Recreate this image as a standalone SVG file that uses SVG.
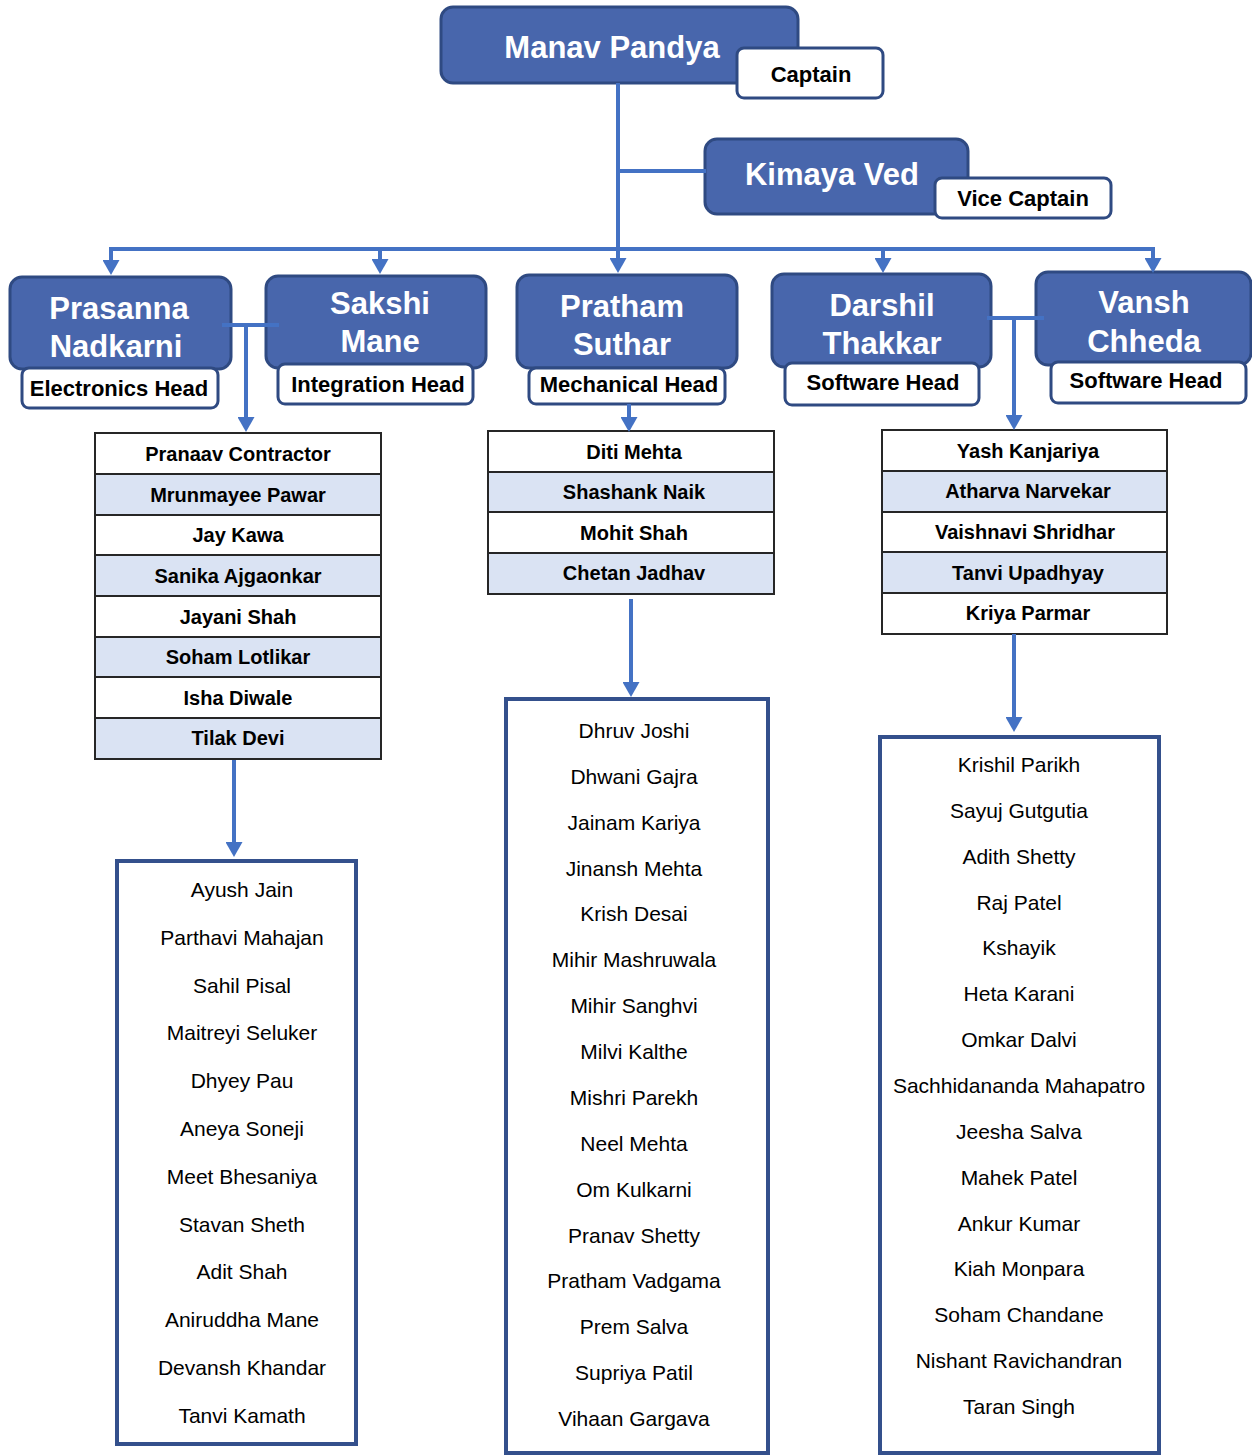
<svg xmlns="http://www.w3.org/2000/svg" width="1252" height="1456" viewBox="0 0 1252 1456">
<style>
.head{fill:#4866ac;stroke:#2f4a82;stroke-width:3}
.tag{fill:#ffffff;stroke:#2f4a82;stroke-width:3}
.ht{font-family:"Liberation Sans",Arial,sans-serif;font-weight:bold;font-size:31px;fill:#ffffff;text-anchor:middle}
.tt{font-family:"Liberation Sans",Arial,sans-serif;font-weight:bold;font-size:22px;fill:#000000;text-anchor:middle}
.rw{fill:#ffffff;stroke:#262626;stroke-width:2}
.rb{fill:#dae3f3;stroke:#262626;stroke-width:2}
.rt{font-family:"Liberation Sans",Arial,sans-serif;font-weight:bold;font-size:20px;fill:#000000;text-anchor:middle}
.lb{fill:#ffffff;stroke:#34508c;stroke-width:4}
.lt{font-family:"Liberation Sans",Arial,sans-serif;font-size:21px;fill:#000000;text-anchor:middle}
.cn{fill:none;stroke:#4472c4;stroke-width:4}
.ar{marker-end:url(#arr)}
</style>
<defs>
<marker id="arr" viewBox="0 0 15 17" refX="7" refY="8.5" markerWidth="15" markerHeight="17" markerUnits="userSpaceOnUse" orient="auto">
<path d="M0,0 L15,8.5 L0,17 z" fill="#4472c4"/>
</marker>
</defs>

<g id="manav">
<rect class="head" x="441" y="7" width="357" height="76" rx="12"/>
<text class="ht" x="612" y="58">Manav Pandya</text>
<rect class="tag" x="737" y="48" width="146" height="50" rx="7"/>
<text class="tt" x="811" y="82">Captain</text>
</g>
<g id="kimaya">
<rect class="head" x="705" y="139" width="263" height="75" rx="12"/>
<text class="ht" x="832" y="185">Kimaya Ved</text>
<rect class="tag" x="935" y="178" width="176" height="40" rx="7"/>
<text class="tt" x="1023" y="206">Vice Captain</text>
</g>
<g id="prasanna">
<rect class="head" x="10" y="277" width="221" height="92" rx="12"/>
<text class="ht" x="119" y="319">Prasanna</text>
<text class="ht" x="116" y="357">Nadkarni</text>
<rect class="tag" x="22" y="368" width="196" height="40" rx="7"/>
<text class="tt" x="119" y="396">Electronics Head</text>
</g>
<g id="sakshi">
<rect class="head" x="266" y="276" width="220" height="92" rx="12"/>
<text class="ht" x="380" y="314">Sakshi</text>
<text class="ht" x="380" y="352">Mane</text>
<rect class="tag" x="278" y="364" width="195" height="40" rx="7"/>
<text class="tt" x="378" y="392">Integration Head</text>
</g>
<g id="pratham">
<rect class="head" x="517" y="275" width="220" height="93" rx="12"/>
<text class="ht" x="622" y="317">Pratham</text>
<text class="ht" x="622" y="355">Suthar</text>
<rect class="tag" x="529" y="368" width="196" height="36" rx="7"/>
<text class="tt" x="629" y="392">Mechanical Head</text>
</g>
<g id="darshil">
<rect class="head" x="772" y="274" width="219" height="93" rx="12"/>
<text class="ht" x="882" y="316">Darshil</text>
<text class="ht" x="882" y="354">Thakkar</text>
<rect class="tag" x="785" y="363" width="194" height="42" rx="7"/>
<text class="tt" x="883" y="390">Software Head</text>
</g>
<g id="vansh">
<rect class="head" x="1036" y="272" width="215" height="93" rx="12"/>
<text class="ht" x="1144" y="313">Vansh</text>
<text class="ht" x="1144" y="352">Chheda</text>
<rect class="tag" x="1051" y="362" width="195" height="41" rx="7"/>
<text class="tt" x="1146" y="388">Software Head</text>
</g>

<g id="electronics-core">
<rect class="rw" x="95" y="433" width="286" height="41"/>
<rect class="rb" x="95" y="474" width="286" height="41"/>
<rect class="rw" x="95" y="515" width="286" height="40"/>
<rect class="rb" x="95" y="555" width="286" height="41"/>
<rect class="rw" x="95" y="596" width="286" height="41"/>
<rect class="rb" x="95" y="637" width="286" height="40"/>
<rect class="rw" x="95" y="677" width="286" height="41"/>
<rect class="rb" x="95" y="718" width="286" height="41"/>
<text class="rt" x="238" y="461">Pranaav Contractor</text>
<text class="rt" x="238" y="502">Mrunmayee Pawar</text>
<text class="rt" x="238" y="542">Jay Kawa</text>
<text class="rt" x="238" y="583">Sanika Ajgaonkar</text>
<text class="rt" x="238" y="624">Jayani Shah</text>
<text class="rt" x="238" y="664">Soham Lotlikar</text>
<text class="rt" x="238" y="705">Isha Diwale</text>
<text class="rt" x="238" y="745">Tilak Devi</text>
</g>
<g id="mechanical-core">
<rect class="rw" x="488" y="431" width="286" height="41"/>
<rect class="rb" x="488" y="472" width="286" height="40"/>
<rect class="rw" x="488" y="512" width="286" height="41"/>
<rect class="rb" x="488" y="553" width="286" height="41"/>
<text class="rt" x="634" y="459">Diti Mehta</text>
<text class="rt" x="634" y="499">Shashank Naik</text>
<text class="rt" x="634" y="540">Mohit Shah</text>
<text class="rt" x="634" y="580">Chetan Jadhav</text>
</g>
<g id="software-core">
<rect class="rw" x="882" y="430" width="285" height="41"/>
<rect class="rb" x="882" y="471" width="285" height="41"/>
<rect class="rw" x="882" y="512" width="285" height="40"/>
<rect class="rb" x="882" y="552" width="285" height="41"/>
<rect class="rw" x="882" y="593" width="285" height="41"/>
<text class="rt" x="1028" y="458">Yash Kanjariya</text>
<text class="rt" x="1028" y="498">Atharva Narvekar</text>
<text class="rt" x="1025" y="539">Vaishnavi Shridhar</text>
<text class="rt" x="1028" y="580">Tanvi Upadhyay</text>
<text class="rt" x="1028" y="620">Kriya Parmar</text>
</g>

<g id="electronics-members">
<rect class="lb" x="117" y="861" width="239" height="583"/>
<text class="lt" x="242" y="897">Ayush Jain</text>
<text class="lt" x="242" y="945">Parthavi Mahajan</text>
<text class="lt" x="242" y="993">Sahil Pisal</text>
<text class="lt" x="242" y="1040">Maitreyi Seluker</text>
<text class="lt" x="242" y="1088">Dhyey Pau</text>
<text class="lt" x="242" y="1136">Aneya Soneji</text>
<text class="lt" x="242" y="1184">Meet Bhesaniya</text>
<text class="lt" x="242" y="1232">Stavan Sheth</text>
<text class="lt" x="242" y="1279">Adit Shah</text>
<text class="lt" x="242" y="1327">Aniruddha Mane</text>
<text class="lt" x="242" y="1375">Devansh Khandar</text>
<text class="lt" x="242" y="1423">Tanvi Kamath</text>
</g>
<g id="mechanical-members">
<rect class="lb" x="506" y="699" width="262" height="754"/>
<text class="lt" x="634" y="738">Dhruv Joshi</text>
<text class="lt" x="634" y="784">Dhwani Gajra</text>
<text class="lt" x="634" y="830">Jainam Kariya</text>
<text class="lt" x="634" y="876">Jinansh Mehta</text>
<text class="lt" x="634" y="921">Krish Desai</text>
<text class="lt" x="634" y="967">Mihir Mashruwala</text>
<text class="lt" x="634" y="1013">Mihir Sanghvi</text>
<text class="lt" x="634" y="1059">Milvi Kalthe</text>
<text class="lt" x="634" y="1105">Mishri Parekh</text>
<text class="lt" x="634" y="1151">Neel Mehta</text>
<text class="lt" x="634" y="1197">Om Kulkarni</text>
<text class="lt" x="634" y="1243">Pranav Shetty</text>
<text class="lt" x="634" y="1288">Pratham Vadgama</text>
<text class="lt" x="634" y="1334">Prem Salva</text>
<text class="lt" x="634" y="1380">Supriya Patil</text>
<text class="lt" x="634" y="1426">Vihaan Gargava</text>
</g>
<g id="software-members">
<rect class="lb" x="880" y="737" width="279" height="716"/>
<text class="lt" x="1019" y="772">Krishil Parikh</text>
<text class="lt" x="1019" y="818">Sayuj Gutgutia</text>
<text class="lt" x="1019" y="864">Adith Shetty</text>
<text class="lt" x="1019" y="910">Raj Patel</text>
<text class="lt" x="1019" y="955">Kshayik</text>
<text class="lt" x="1019" y="1001">Heta Karani</text>
<text class="lt" x="1019" y="1047">Omkar Dalvi</text>
<text class="lt" x="1019" y="1093">Sachhidananda Mahapatro</text>
<text class="lt" x="1019" y="1139">Jeesha Salva</text>
<text class="lt" x="1019" y="1185">Mahek Patel</text>
<text class="lt" x="1019" y="1231">Ankur Kumar</text>
<text class="lt" x="1019" y="1276">Kiah Monpara</text>
<text class="lt" x="1019" y="1322">Soham Chandane</text>
<text class="lt" x="1019" y="1368">Nishant Ravichandran</text>
<text class="lt" x="1019" y="1414">Taran Singh</text>
</g>

<g id="connectors">
<path class="cn ar" d="M618,83 V265"/>
<path class="cn" d="M618,171 H706"/>
<path class="cn" d="M109,249 H1155"/>
<path class="cn ar" d="M111,249 V267"/>
<path class="cn ar" d="M380,249 V266"/>
<path class="cn ar" d="M883,249 V265"/>
<path class="cn ar" d="M1153,249 V265"/>
<path class="cn" d="M222,325 H279"/>
<path class="cn ar" d="M246,325 V424"/>
<path class="cn ar" d="M629,404 V424"/>
<path class="cn" d="M987,318 H1044"/>
<path class="cn ar" d="M1014,318 V422"/>
<path class="cn ar" d="M234,760 V849"/>
<path class="cn ar" d="M631,599 V689"/>
<path class="cn ar" d="M1014,634 V724"/>
</g>
</svg>
